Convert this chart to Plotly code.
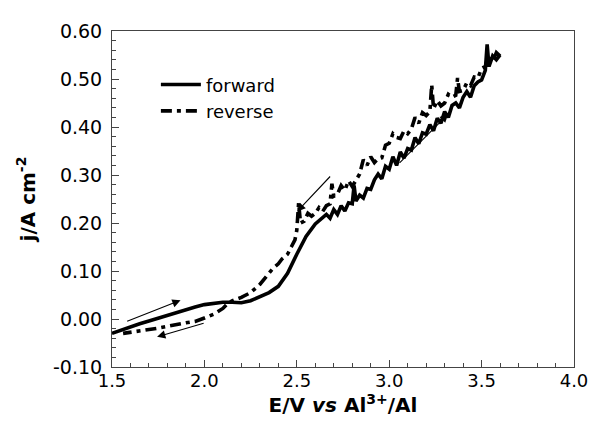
import plotly.graph_objects as go

# Forward scan (solid)
E_fwd = [1.50, 1.55, 1.60, 1.65, 1.70, 1.75, 1.80, 1.85, 1.90, 1.95, 2.00, 2.05, 2.10, 2.15, 2.20,
         2.25, 2.30, 2.35, 2.40, 2.45, 2.50, 2.55, 2.60, 2.62, 2.64, 2.66, 2.68, 2.70, 2.72, 2.74,
         2.76, 2.78, 2.80, 2.81, 2.82, 2.84, 2.86, 2.88, 2.90, 2.92, 2.94, 2.96, 2.98, 3.00, 3.02,
         3.04, 3.06, 3.08, 3.10, 3.12, 3.14, 3.16, 3.18, 3.20, 3.22, 3.24, 3.26, 3.28, 3.30, 3.32,
         3.34, 3.36, 3.38, 3.40, 3.42, 3.44, 3.46, 3.48, 3.50, 3.52, 3.53, 3.54, 3.56, 3.58, 3.60]
j_fwd = [-0.030, -0.023, -0.016, -0.010, -0.004, 0.002, 0.008, 0.014, 0.020, 0.025, 0.030, 0.033, 0.035, 0.035, 0.034,
         0.038, 0.046, 0.055, 0.068, 0.095, 0.135, 0.172, 0.198, 0.205, 0.210, 0.218, 0.210, 0.228, 0.218, 0.236,
         0.225, 0.242, 0.240, 0.278, 0.246, 0.258, 0.252, 0.272, 0.270, 0.290, 0.302, 0.292, 0.318, 0.312, 0.338,
         0.320, 0.348, 0.335, 0.355, 0.352, 0.378, 0.365, 0.388, 0.385, 0.405, 0.392, 0.418, 0.408, 0.432, 0.420,
         0.445, 0.450, 0.440, 0.462, 0.474, 0.462, 0.486, 0.494, 0.498, 0.518, 0.572, 0.526, 0.548, 0.540, 0.550]

# Reverse scan (dash-dot)
E_rev = [3.60, 3.58, 3.56, 3.54, 3.52, 3.50, 3.48, 3.46, 3.44, 3.42, 3.40, 3.38, 3.37, 3.36, 3.34,
         3.32, 3.30, 3.28, 3.26, 3.24, 3.23, 3.22, 3.20, 3.18, 3.16, 3.14, 3.12, 3.10, 3.08, 3.06,
         3.04, 3.02, 3.00, 2.98, 2.96, 2.94, 2.92, 2.90, 2.88, 2.86, 2.84, 2.82, 2.80, 2.78, 2.76,
         2.74, 2.72, 2.70, 2.69, 2.68, 2.66, 2.64, 2.62, 2.60, 2.58, 2.56, 2.54, 2.52, 2.51, 2.50,
         2.49, 2.47, 2.45, 2.42, 2.40, 2.37, 2.35, 2.30, 2.25, 2.20, 2.15, 2.12, 2.10, 2.05, 2.00,
         1.95, 1.90, 1.85, 1.80, 1.75, 1.70, 1.65, 1.60, 1.56]
j_rev = [0.548, 0.555, 0.536, 0.548, 0.526, 0.522, 0.502, 0.504, 0.486, 0.492, 0.476, 0.474, 0.502, 0.466, 0.462,
         0.468, 0.450, 0.444, 0.455, 0.438, 0.488, 0.432, 0.424, 0.430, 0.408, 0.420, 0.396, 0.386, 0.392, 0.376,
         0.378, 0.386, 0.366, 0.362, 0.336, 0.334, 0.326, 0.338, 0.320, 0.332, 0.302, 0.288, 0.276, 0.288, 0.268,
         0.278, 0.260, 0.256, 0.282, 0.240, 0.236, 0.224, 0.232, 0.220, 0.214, 0.220, 0.204, 0.200, 0.242, 0.185,
         0.165, 0.150, 0.135, 0.125, 0.115, 0.105, 0.095, 0.072, 0.055, 0.045, 0.038, 0.030, 0.022, 0.010, 0.002,
         -0.005, -0.008, -0.012, -0.016, -0.019, -0.022, -0.025, -0.028, -0.030]

legend_names = ["forward", "reverse"]
x_ticks = [1.5, 2.0, 2.5, 3.0, 3.5, 4.0]
y_ticks = [-0.10, 0.00, 0.10, 0.20, 0.30, 0.40, 0.50, 0.60]
x_tick_text = ["1.5", "2.0", "2.5", "3.0", "3.5", "4.0"]
y_tick_text = ["-0.10", "0.00", "0.10", "0.20", "0.30", "0.40", "0.50", "0.60"]

# Scan-direction arrows: (tail E, tail j, head E, head j)
arrows = [
    (1.574, -0.006, 1.871, 0.039),
    (2.004, -0.008, 1.744, -0.037),
    (2.688, 0.300, 2.502, 0.224),
    (3.048, 0.322, 3.319, 0.427),
]

FONT = "DejaVu Sans, Arial, sans-serif"

fig = go.Figure()
fig.add_trace(go.Scatter(x=E_fwd, y=j_fwd, mode="lines", name=legend_names[0],
                         line=dict(color="black", width=3.6)))
fig.add_trace(go.Scatter(x=E_rev, y=j_rev, mode="lines", name=legend_names[1],
                         line=dict(color="black", width=3.6, dash="11px,5px,4px,5px")))

for (x0, y0, x1, y1) in arrows:
    fig.add_annotation(x=x1, y=y1, ax=x0, ay=y0, xref="x", yref="y", axref="x", ayref="y",
                       showarrow=True, arrowhead=2, arrowsize=1.5, arrowwidth=1.1,
                       arrowcolor="black", text="")

# page body has an 8px margin: the figure is sized/margined so the plot lands where the reference has it
fig.update_layout(
    width=592, height=415,
    margin=dict(l=104, r=16, t=17, b=56),
    paper_bgcolor="white", plot_bgcolor="white",
    font=dict(family=FONT, size=16, color="black"),
    showlegend=True,
    legend=dict(x=0.095, y=0.895, xanchor="left", yanchor="top",
                bgcolor="rgba(0,0,0,0)", font=dict(size=18, family=FONT),
                tracegroupgap=0, itemwidth=40),
    xaxis=dict(range=[1.5, 4.0], tickvals=x_ticks, ticktext=x_tick_text,
               ticks="inside", ticklen=7, tickwidth=1, tickcolor="#444",
               minor=dict(dtick=0.1, ticks="inside", ticklen=4, tickcolor="#444"),
               showline=True, linecolor="#444", linewidth=1, mirror=True,
               showgrid=False, zeroline=False, ticklabelstandoff=-3,
               tickfont=dict(size=18, family=FONT),
               title=dict(text="<b>E/V <i>vs</i> Al<sup>3+</sup>/Al</b>",
                          font=dict(size=20, family=FONT), standoff=6)),
    yaxis=dict(range=[-0.10, 0.60], tickvals=y_ticks, ticktext=y_tick_text,
               ticks="inside", ticklen=7, tickwidth=1, tickcolor="#444",
               minor=dict(dtick=0.02, ticks="inside", ticklen=4, tickcolor="#444"),
               showline=True, linecolor="#444", linewidth=1, mirror=True,
               showgrid=False, zeroline=False,
               ticklabelstandoff=5,
               tickfont=dict(size=19, family=FONT),
               title=dict(text="<b>j/A cm<sup>-2</sup></b>",
                          font=dict(size=20, family=FONT), standoff=12)),
)

fig.write_html("out.html")
